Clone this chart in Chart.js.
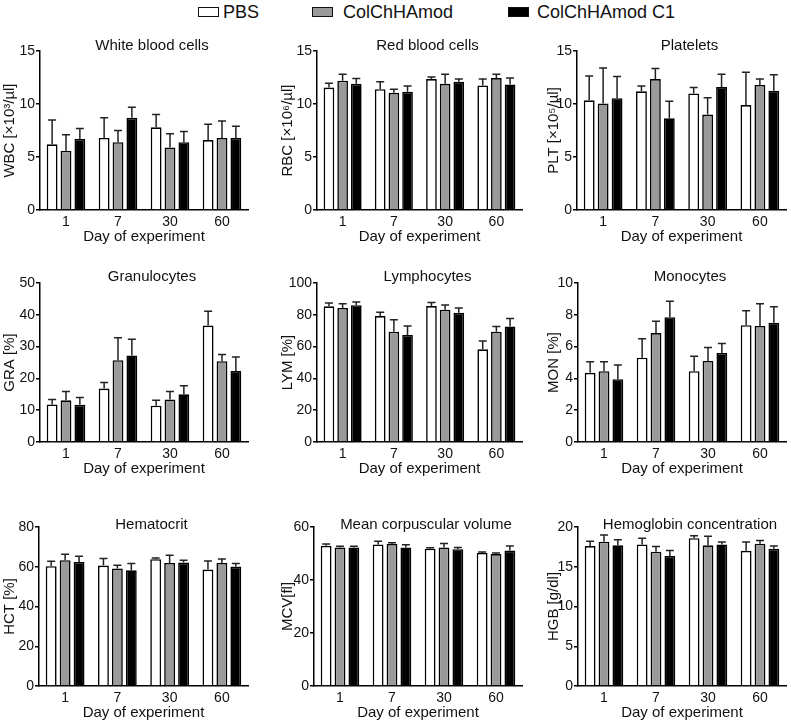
<!DOCTYPE html>
<html>
<head>
<meta charset="utf-8">
<script src="https://cdn.jsdelivr.net/npm/chart.js@4"></script>
<style>
  body { margin: 0; background: #fff; }
  #wrap { position: relative; width: 791px; height: 723px; font-family: "Liberation Sans", Arial, sans-serif; color: #111; }
  canvas { position: absolute; }
  .leg { position: absolute; top: 3px; font-size: 18px; line-height: 18px; white-space: nowrap; }
  .box { position: absolute; top: 7px; width: 21px; height: 10px; border: 1.5px solid #111; box-sizing: border-box; }
</style>
</head>
<body>
<div id="wrap">
  <div class="box" style="left:198px;background:#fff"></div><div class="leg" style="left:223px">PBS</div>
  <div class="box" style="left:312px;background:#9a9a9a"></div><div class="leg" style="left:343px">ColChHAmod</div>
  <div class="box" style="left:508px;background:#000"></div><div class="leg" style="left:537px">ColChHAmod C1</div>
</div>
<script>
// dni pomiaru i grupy
var days = ['1', '7', '30', '60'];
var groups = ['PBS', 'ColChHAmod', 'ColChHAmod C1'];

// średnie i SD (PBS, ColChHAmod, ColChHAmod C1)
var wbcMean = [[6.2, 6.8, 7.8, 6.6], [5.6, 6.4, 5.9, 6.8], [6.7, 8.7, 6.4, 6.8]];
var wbcSD   = [[2.3, 1.9, 1.2, 1.5], [1.5, 1.1, 1.3, 1.6], [1.0, 1.0, 1.0, 1.1]];
var rbcMean = [[11.55, 11.4, 12.35, 11.75], [12.2, 11.05, 11.9, 12.45], [11.9, 11.15, 12.1, 11.85]];
var rbcSD   = [[0.4, 0.7, 0.2, 0.6], [0.6, 0.35, 0.9, 0.35], [0.5, 0.55, 0.25, 0.6]];
var pltMean = [[10.35, 11.2, 11.0, 9.9], [10.05, 12.35, 9.0, 11.8], [10.55, 8.65, 11.6, 11.25]];
var pltSD   = [[2.3, 0.5, 0.55, 3.1], [3.35, 1.0, 1.6, 0.55], [2.05, 1.6, 1.2, 1.5]];
var graMean = [[11.8, 16.8, 11.4, 36.6], [13.1, 25.7, 13.4, 25.4], [11.7, 27.2, 15.0, 22.3]];
var graSD   = [[1.6, 1.9, 1.7, 4.5], [2.8, 7.1, 2.5, 2.1], [2.3, 5.1, 2.7, 4.4]];
var lymMean = [[85.3, 79.2, 85.5, 58.3], [84.3, 69.4, 83.2, 69.4], [86.0, 67.3, 81.3, 72.7]];
var lymSD   = [[2.1, 2.4, 2.3, 5.2], [2.7, 7.5, 3.0, 3.3], [2.0, 5.7, 3.0, 4.9]];
var monMean = [[4.35, 5.3, 4.45, 7.35], [4.45, 6.85, 5.1, 7.3], [3.95, 7.85, 5.6, 7.5]];
var monSD   = [[0.7, 1.2, 0.95, 0.9], [0.6, 0.75, 0.85, 1.4], [0.9, 1.0, 0.6, 1.0]];
var hctMean = [[60.3, 60.6, 63.8, 58.6], [63.3, 59.1, 61.9, 61.9], [62.4, 58.2, 62.1, 60.1]];
var hctSD   = [[2.5, 3.5, 0.6, 4.3], [3.0, 1.7, 3.9, 2.0], [2.9, 3.4, 1.2, 1.5]];
var mcvMean = [[52.9, 53.4, 51.8, 50.2], [52.3, 53.6, 52.3, 49.8], [52.3, 52.3, 51.6, 51.1]];
var mcvSD   = [[0.7, 1.2, 0.4, 0.4], [0.4, 0.5, 1.5, 0.4], [0.4, 1.0, 0.7, 1.7]];
var hgbMean = [[17.6, 17.8, 18.6, 17.0], [18.15, 16.9, 17.7, 17.9], [17.7, 16.35, 17.8, 17.25]];
var hgbSD   = [[0.6, 0.8, 0.3, 1.1], [0.85, 0.65, 1.15, 0.4], [0.7, 0.7, 0.3, 0.35]];

// podziałki osi Y
var ticks15 = [0, 5, 10, 15];
var ticksGra = [0, 10, 20, 30, 40, 50];
var ticksLym = [0, 20, 40, 60, 80, 100];
var ticksMon = [0, 2, 4, 6, 8, 10];
var ticksHct = [0, 20, 40, 60, 80];
var ticksMcv = [0, 20, 40, 60];
var ticksHgb = [0, 5, 10, 15, 20];

var panels = [
  { title: 'White blood cells', yTitle: 'WBC [×10³/µl]', mean: wbcMean, sd: wbcSD, ticks: ticks15 },
  { title: 'Red blood cells', yTitle: 'RBC [×10⁶/µl]', mean: rbcMean, sd: rbcSD, ticks: ticks15 },
  { title: 'Platelets', yTitle: 'PLT [×10⁵/µl]', mean: pltMean, sd: pltSD, ticks: ticks15 },
  { title: 'Granulocytes', yTitle: 'GRA [%]', mean: graMean, sd: graSD, ticks: ticksGra },
  { title: 'Lymphocytes', yTitle: 'LYM [%]', mean: lymMean, sd: lymSD, ticks: ticksLym },
  { title: 'Monocytes', yTitle: 'MON [%]', mean: monMean, sd: monSD, ticks: ticksMon },
  { title: 'Hematocrit', yTitle: 'HCT [%]', mean: hctMean, sd: hctSD, ticks: ticksHct },
  { title: 'Mean corpuscular volume', yTitle: 'MCV[fl]', mean: mcvMean, sd: mcvSD, ticks: ticksMcv },
  { title: 'Hemoglobin concentration', yTitle: 'HGB [g/dl]', mean: hgbMean, sd: hgbSD, ticks: ticksHgb }
];

var fills = ['#ffffff', '#9a9a9a', '#000000'];
var FONT = '"Liberation Sans", Arial, sans-serif';
var INK = '#111';

// rozmieszczenie paneli
var colLeft = [0, 264, 528], colW = [264, 264, 263];
var colAxisW = [[40, 53, 49], [40, 53, 50], [39, 50, 50]];
var colPadR = [16, 6, 5];
var colYTitlePad = [1, 15, 17];
var rowTop = [28, 262, 490], rowH = [234, 228, 233];
var rowPadT = [23, 21, 37], rowPadB = [16, 12, 1];
var rowTitleDy = [-5, -6, -2];

// słupki błędów (średnia + SD)
var errorBars = {
  id: 'errorBars',
  afterDatasetsDraw: function (chart) {
    var ctx = chart.ctx, y = chart.scales.y;
    ctx.save();
    ctx.strokeStyle = '#222';
    ctx.lineWidth = 1.5;
    chart.data.datasets.forEach(function (ds, i) {
      chart.getDatasetMeta(i).data.forEach(function (bar, j) {
        var top = y.getPixelForValue(ds.data[j] + ds.sd[j]);
        ctx.beginPath();
        ctx.moveTo(bar.x, bar.y);
        ctx.lineTo(bar.x, top);
        ctx.moveTo(bar.x - 4, top);
        ctx.lineTo(bar.x + 4, top);
        ctx.stroke();
      });
    });
    ctx.restore();
  }
};

// tytuł panelu wewnątrz górnej części wykresu
var panelTitle = {
  id: 'panelTitle',
  afterDraw: function (chart, args, opts) {
    var a = chart.chartArea, ctx = chart.ctx;
    ctx.save();
    ctx.font = '15px ' + FONT;
    ctx.fillStyle = INK;
    ctx.textAlign = 'center';
    ctx.textBaseline = 'middle';
    ctx.fillText(opts.text, (a.left + a.right) / 2 + 8, a.top + opts.dy);
    ctx.restore();
  }
};

var wrap = document.getElementById('wrap');

panels.forEach(function (p, k) {
  var r = Math.floor(k / 3), c = k % 3;
  var cv = document.createElement('canvas');
  cv.width = colW[c];
  cv.height = rowH[r];
  cv.style.left = colLeft[c] + 'px';
  cv.style.top = rowTop[r] + 'px';
  cv.style.width = colW[c] + 'px';
  cv.style.height = rowH[r] + 'px';
  wrap.appendChild(cv);

  var ticks = p.ticks;
  var axisW = colAxisW[r][c];

  new Chart(cv.getContext('2d'), {
    type: 'bar',
    data: {
      labels: days,
      datasets: groups.map(function (g, i) {
        return {
          label: g,
          data: p.mean[i],
          sd: p.sd[i],
          backgroundColor: fills[i],
          borderColor: '#000',
          borderWidth: 1.6,
          categoryPercentage: 0.8,
          barPercentage: 0.78
        };
      })
    },
    plugins: [errorBars, panelTitle],
    options: {
      responsive: false,
      animation: false,
      events: [],
      layout: { padding: { left: 0, right: colPadR[c], top: rowPadT[r], bottom: rowPadB[r] } },
      plugins: {
        legend: { display: false },
        tooltip: { enabled: false },
        panelTitle: { text: p.title, dy: rowTitleDy[r] }
      },
      scales: {
        x: {
          grid: { drawOnChartArea: false, drawTicks: false },
          border: { display: true, color: '#000', width: 1.5 },
          ticks: { color: INK, font: { family: FONT, size: 14 }, padding: 4, maxRotation: 0 },
          title: { display: true, text: 'Day of experiment', color: INK, font: { family: FONT, size: 15 }, padding: { top: 0, bottom: 0 } },
          afterFit: function (s) { s.height = 36; }
        },
        y: {
          min: ticks[0],
          max: ticks[ticks.length - 1],
          afterBuildTicks: function (s) { s.ticks = ticks.map(function (v) { return { value: v }; }); },
          grid: { drawOnChartArea: false, drawTicks: true, tickLength: 4, color: '#000', lineWidth: 1.5 },
          border: { display: true, color: '#000', width: 1.5 },
          ticks: { color: INK, font: { family: FONT, size: 14 }, padding: 1 },
          title: { display: true, text: p.yTitle, color: INK, font: { family: FONT, size: 15 }, padding: { top: colYTitlePad[c], bottom: 0 } },
          afterFit: function (s) { s.width = axisW; }
        }
      }
    }
  });
});
</script>
</body>
</html>
